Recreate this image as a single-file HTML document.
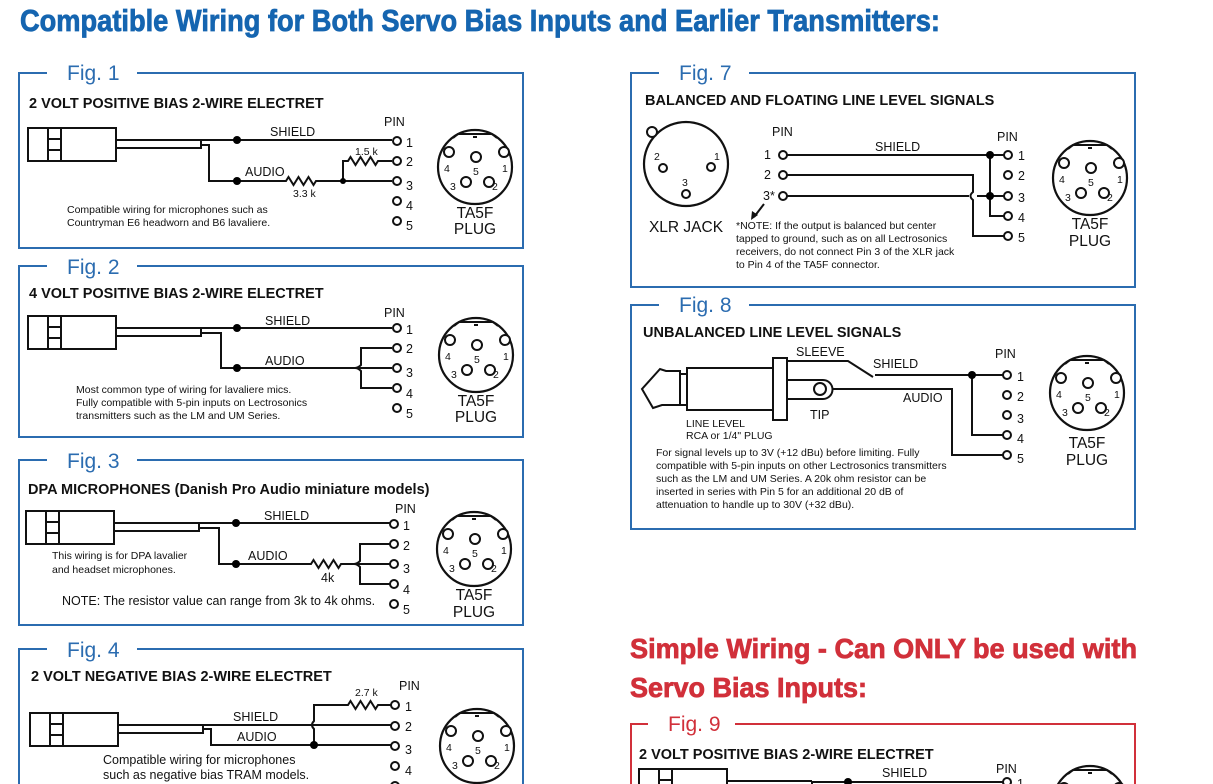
<!DOCTYPE html>
<html><head><meta charset="utf-8"><style>
html,body{margin:0;padding:0;background:#fff;width:1213px;height:784px;overflow:hidden;}
svg{display:block;overflow:hidden;font-family:"Liberation Sans",Arial,sans-serif;}
.w{fill:none;stroke:#111;stroke-width:2;}
.b{fill:none;stroke:#2b6cb0;stroke-width:2;}
.r{fill:none;stroke:#d1303a;stroke-width:2;}
.t{font-size:10.5px;fill:#111;}
.h{font-size:14.5px;font-weight:bold;fill:#111;}
.l{font-size:12.5px;fill:#111;}
.n{font-size:12.5px;fill:#111;}
.pg{font-size:15.5px;fill:#111;text-anchor:middle;}
.fig{font-size:21px;fill:#2b6cb0;}
.pin{fill:#fff;stroke:#111;stroke-width:2;}
</style></head><body>
<svg width="1213" height="784" viewBox="0 0 1213 784" xmlns="http://www.w3.org/2000/svg">
<defs>
<g id="plug">
<circle cx="0" cy="0" r="37" fill="none" stroke="#111" stroke-width="2.2"/>
<path d="M-22,-29 L-17,-33 L17,-33 L22,-29 M-2,-30 h4" fill="none" stroke="#111" stroke-width="2"/>
<circle cx="-26" cy="-15" r="5" class="pin"/>
<circle cx="1" cy="-10" r="5" class="pin"/>
<circle cx="29" cy="-15" r="5" class="pin"/>
<circle cx="-9" cy="15" r="5" class="pin"/>
<circle cx="14" cy="15" r="5" class="pin"/>
</g>
<g id="mic">
<rect x="0" y="0" width="88" height="33" fill="none" stroke="#111" stroke-width="2"/>
<path d="M20,0 V33 M33,0 V33 M20,11 H33 M20,22 H33" fill="none" stroke="#111" stroke-width="2"/>
<path d="M88,12 H173 M88,20 H173 V12" fill="none" stroke="#111" stroke-width="2"/>
</g>
</defs>

<text x="20" y="31" font-size="31" font-weight="bold" fill="#1565b0" stroke="#1565b0" stroke-width="0.8" textLength="920" lengthAdjust="spacingAndGlyphs">Compatible Wiring for Both Servo Bias Inputs and Earlier Transmitters:</text>

<!-- FIG 1 -->
<path class="b" d="M47,73 H19 V248 H523 V73 H137"/>
<text class="fig" x="67" y="80">Fig. 1</text>
<text class="h" x="29" y="108">2 VOLT POSITIVE BIAS 2-WIRE ELECTRET</text>
<use href="#mic" x="28" y="128"/>
<path class="w" d="M201,140 H392 M201,145 H209 V181 H286 l2.5,-4 l5,8 l5,-8 l5,8 l5,-8 l5,8 l2.5,-4 H392 M343,181 V161 H348 l2.5,-4 l5,8 l5,-8 l5,8 l5,-8 l5,8 l2.5,-4 H392"/>
<circle cx="237" cy="140" r="4"/><circle cx="237" cy="181" r="4"/><circle cx="343" cy="181" r="3"/>
<text class="l" x="270" y="136">SHIELD</text>
<text class="l" x="245" y="176">AUDIO</text>
<text class="t" x="293" y="197">3.3 k</text>
<text class="t" x="355" y="155">1.5 k</text>
<text class="l" x="384" y="126">PIN</text>
<circle cx="397" cy="141" r="4" class="pin"/><circle cx="397" cy="161" r="4" class="pin"/><circle cx="397" cy="181" r="4" class="pin"/><circle cx="397" cy="201" r="4" class="pin"/><circle cx="397" cy="221" r="4" class="pin"/>
<text class="n" x="406" y="147">1</text><text class="n" x="406" y="166">2</text><text class="n" x="406" y="190">3</text><text class="n" x="406" y="210">4</text><text class="n" x="406" y="230">5</text>
<text class="t" x="67" y="213">Compatible wiring for microphones such as</text>
<text class="t" x="67" y="226">Countryman E6 headworn and B6 lavaliere.</text>
<use href="#plug" x="475" y="167"/>
<text class="t" x="444" y="172">4</text><text class="t" x="473" y="175">5</text><text class="t" x="502" y="172">1</text><text class="t" x="450" y="190">3</text><text class="t" x="492" y="190">2</text>
<text class="pg" x="475" y="218">TA5F</text><text class="pg" x="475" y="234">PLUG</text>

<!-- FIG 2 -->
<path class="b" d="M47,266 H19 V437 H523 V266 H137"/>
<text class="fig" x="67" y="274">Fig. 2</text>
<text class="h" x="29" y="298">4 VOLT POSITIVE BIAS 2-WIRE ELECTRET</text>
<use href="#mic" x="28" y="316"/>
<path class="w" d="M201,328 H392 M201,333 H221 V368 H355 M392,348 H361 V365 q-3,3 -6,3 q3,0 6,3 V388 H392 M358,368 H392"/>
<circle cx="237" cy="328" r="4"/><circle cx="237" cy="368" r="4"/>
<text class="l" x="265" y="325">SHIELD</text>
<text class="l" x="265" y="365">AUDIO</text>
<text class="l" x="384" y="317">PIN</text>
<circle cx="397" cy="328" r="4" class="pin"/><circle cx="397" cy="348" r="4" class="pin"/><circle cx="397" cy="368" r="4" class="pin"/><circle cx="397" cy="388" r="4" class="pin"/><circle cx="397" cy="408" r="4" class="pin"/>
<text class="n" x="406" y="334">1</text><text class="n" x="406" y="353">2</text><text class="n" x="406" y="377">3</text><text class="n" x="406" y="398">4</text><text class="n" x="406" y="418">5</text>
<text class="t" x="76" y="393">Most common type of wiring for lavaliere mics.</text>
<text class="t" x="76" y="406">Fully compatible with 5-pin inputs on Lectrosonics</text>
<text class="t" x="76" y="419">transmitters such as the LM and UM Series.</text>
<use href="#plug" x="476" y="355"/>
<text class="t" x="445" y="360">4</text><text class="t" x="474" y="363">5</text><text class="t" x="503" y="360">1</text><text class="t" x="451" y="378">3</text><text class="t" x="493" y="378">2</text>
<text class="pg" x="476" y="406">TA5F</text><text class="pg" x="476" y="422">PLUG</text>

<!-- FIG 3 -->
<path class="b" d="M47,460 H19 V625 H523 V460 H137"/>
<text class="fig" x="67" y="468">Fig. 3</text>
<text class="h" x="28" y="494">DPA MICROPHONES (Danish Pro Audio miniature models)</text>
<use href="#mic" x="26" y="511"/>
<path class="w" d="M199,523 H390 M199,528 H219 V564 H311 l2.5,-4 l5,8 l5,-8 l5,8 l5,-8 l5,8 l2.5,-4 H354 M390,544 H360 V561 q-3,3 -6,3 q3,0 6,3 V584 H390 M357,564 H390"/>
<circle cx="236" cy="523" r="4"/><circle cx="236" cy="564" r="4"/>
<text class="l" x="264" y="520">SHIELD</text>
<text class="l" x="248" y="560">AUDIO</text>
<text class="l" x="321" y="582">4k</text>
<text class="l" x="395" y="513">PIN</text>
<circle cx="394" cy="524" r="4" class="pin"/><circle cx="394" cy="544" r="4" class="pin"/><circle cx="394" cy="564" r="4" class="pin"/><circle cx="394" cy="584" r="4" class="pin"/><circle cx="394" cy="604" r="4" class="pin"/>
<text class="n" x="403" y="530">1</text><text class="n" x="403" y="550">2</text><text class="n" x="403" y="573">3</text><text class="n" x="403" y="594">4</text><text class="n" x="403" y="614">5</text>
<text class="t" x="52" y="559">This wiring is for DPA lavalier</text>
<text class="t" x="52" y="573">and headset microphones.</text>
<text class="l" x="62" y="605" font-size="12">NOTE: The resistor value can range from 3k to 4k ohms.</text>
<use href="#plug" x="474" y="549"/>
<text class="t" x="443" y="554">4</text><text class="t" x="472" y="557">5</text><text class="t" x="501" y="554">1</text><text class="t" x="449" y="572">3</text><text class="t" x="491" y="572">2</text>
<text class="pg" x="474" y="600">TA5F</text><text class="pg" x="474" y="617">PLUG</text>

<!-- FIG 4 -->
<path class="b" d="M47,649 H19 V784 M523,784 V649 H137"/>
<text class="fig" x="67" y="657">Fig. 4</text>
<text class="h" x="31" y="681">2 VOLT NEGATIVE BIAS 2-WIRE ELECTRET</text>
<use href="#mic" x="30" y="713"/>
<path class="w" d="M203,725 H392 M203,729 H211 V745 H392 M314,745 V729 q-4,-4 0,-8 V705 H348 l2.5,-4 l5,8 l5,-8 l5,8 l5,-8 l5,8 l2.5,-4 H392"/>
<circle cx="314" cy="745" r="4"/>
<text class="l" x="233" y="721">SHIELD</text>
<text class="l" x="237" y="741">AUDIO</text>
<text class="t" x="355" y="696">2.7 k</text>
<text class="l" x="399" y="690">PIN</text>
<circle cx="395" cy="705" r="4" class="pin"/><circle cx="395" cy="726" r="4" class="pin"/><circle cx="395" cy="746" r="4" class="pin"/><circle cx="395" cy="766" r="4" class="pin"/><circle cx="395" cy="786" r="4" class="pin"/>
<text class="n" x="405" y="711">1</text><text class="n" x="405" y="731">2</text><text class="n" x="405" y="754">3</text><text class="n" x="405" y="775">4</text>
<text class="l" x="103" y="764" font-size="12">Compatible wiring for microphones</text>
<text class="l" x="103" y="779" font-size="12">such as negative bias TRAM models.</text>
<use href="#plug" x="477" y="746"/>
<text class="t" x="446" y="751">4</text><text class="t" x="475" y="754">5</text><text class="t" x="504" y="751">1</text><text class="t" x="452" y="769">3</text><text class="t" x="494" y="769">2</text>

<!-- FIG 7 -->
<path class="b" d="M659,73 H631 V287 H1135 V73 H749"/>
<text class="fig" x="679" y="80">Fig. 7</text>
<text class="h" x="645" y="105">BALANCED AND FLOATING LINE LEVEL SIGNALS</text>
<circle cx="686" cy="164" r="42" fill="none" stroke="#111" stroke-width="2.2"/>
<circle cx="652" cy="132" r="5" fill="#fff" stroke="#111" stroke-width="2"/>
<circle cx="663" cy="168" r="4" class="pin"/><circle cx="711" cy="167" r="4" class="pin"/><circle cx="686" cy="194" r="4" class="pin"/>
<text class="t" x="654" y="160">2</text><text class="t" x="714" y="160">1</text><text class="t" x="682" y="186">3</text>
<text class="pg" x="686" y="232">XLR JACK</text>
<text class="l" x="772" y="136">PIN</text>
<text class="l" x="764" y="159">1</text><text class="l" x="764" y="179">2</text><text class="l" x="763" y="200">3*</text>
<circle cx="783" cy="155" r="4" class="pin"/><circle cx="783" cy="175" r="4" class="pin"/><circle cx="783" cy="196" r="4" class="pin"/>
<path class="w" d="M787,155 H1004 M990,155 V216 H1004 M787,175 H973 V192 q-5,4 0,8 V236 H1004 M787,196 H969 M977,196 H1004"/>
<circle cx="990" cy="155" r="4"/><circle cx="990" cy="196" r="4"/>
<text class="l" x="875" y="151">SHIELD</text>
<text class="l" x="997" y="141">PIN</text>
<circle cx="1008" cy="155" r="4" class="pin"/><circle cx="1008" cy="175" r="4" class="pin"/><circle cx="1008" cy="196" r="4" class="pin"/><circle cx="1008" cy="216" r="4" class="pin"/><circle cx="1008" cy="236" r="4" class="pin"/>
<text class="n" x="1018" y="160">1</text><text class="n" x="1018" y="180">2</text><text class="n" x="1018" y="202">3</text><text class="n" x="1018" y="222">4</text><text class="n" x="1018" y="242">5</text>
<path class="w" d="M764,204 L754,217" stroke-width="1.5"/><path d="M751,220 L752,211 L758,215 Z" fill="#111"/>
<text class="t" x="736" y="229">*NOTE:  If the output is balanced but center</text>
<text class="t" x="736" y="242">tapped to ground, such as on all Lectrosonics</text>
<text class="t" x="736" y="255">receivers, do not connect Pin 3 of the XLR jack</text>
<text class="t" x="736" y="268">to Pin 4 of the TA5F connector.</text>
<use href="#plug" x="1090" y="178"/>
<text class="t" x="1059" y="183">4</text><text class="t" x="1088" y="186">5</text><text class="t" x="1117" y="183">1</text><text class="t" x="1065" y="201">3</text><text class="t" x="1107" y="201">2</text>
<text class="pg" x="1090" y="229">TA5F</text><text class="pg" x="1090" y="246">PLUG</text>

<!-- FIG 8 -->
<path class="b" d="M659,305 H631 V529 H1135 V305 H749"/>
<text class="fig" x="679" y="312">Fig. 8</text>
<text class="h" x="643" y="337">UNBALANCED LINE LEVEL SIGNALS</text>
<path class="w" d="M680,371 L666,371 L660,369 L642,389 L653,408 L662,405 L680,405 Z"/>
<rect x="680" y="374" width="7" height="31" class="w"/>
<rect x="687" y="368" width="86" height="42" class="w" fill="#fff"/>
<rect x="773" y="358" width="14" height="62" class="w" fill="#fff"/>
<path class="w" d="M787,380 H823 a9.5,9.5 0 0 1 0,19 H787"/>
<circle cx="820" cy="389" r="6" class="pin"/>
<path class="w" d="M787,361 H848 L873,377 M875,375 H1004 M972,375 V435 H1004 M833,389 H952 V455 H1004"/>
<circle cx="972" cy="375" r="4"/>
<text class="l" x="796" y="356">SLEEVE</text>
<text class="l" x="873" y="368">SHIELD</text>
<text class="l" x="903" y="402">AUDIO</text>
<text class="l" x="810" y="419">TIP</text>
<text class="t" x="686" y="427">LINE LEVEL</text>
<text class="t" x="686" y="439">RCA or 1/4" PLUG</text>
<text class="l" x="995" y="358">PIN</text>
<circle cx="1007" cy="375" r="4" class="pin"/><circle cx="1007" cy="395" r="4" class="pin"/><circle cx="1007" cy="415" r="4" class="pin"/><circle cx="1007" cy="435" r="4" class="pin"/><circle cx="1007" cy="455" r="4" class="pin"/>
<text class="n" x="1017" y="381">1</text><text class="n" x="1017" y="401">2</text><text class="n" x="1017" y="423">3</text><text class="n" x="1017" y="443">4</text><text class="n" x="1017" y="463">5</text>
<text class="t" x="656" y="456">For signal levels up to 3V (+12 dBu) before limiting. Fully</text>
<text class="t" x="656" y="469">compatible with 5-pin inputs on other Lectrosonics transmitters</text>
<text class="t" x="656" y="482">such as the LM and UM Series.  A 20k ohm resistor can be</text>
<text class="t" x="656" y="495">inserted in series with Pin 5 for an additional 20 dB of</text>
<text class="t" x="656" y="508">attenuation to handle up to 30V (+32 dBu).</text>
<use href="#plug" x="1087" y="393"/>
<text class="t" x="1056" y="398">4</text><text class="t" x="1085" y="401">5</text><text class="t" x="1114" y="398">1</text><text class="t" x="1062" y="416">3</text><text class="t" x="1104" y="416">2</text>
<text class="pg" x="1087" y="448">TA5F</text><text class="pg" x="1087" y="465">PLUG</text>

<!-- RED SECTION -->
<text x="630" y="658" font-size="28" font-weight="bold" fill="#d1303a" stroke="#d1303a" stroke-width="0.8" textLength="507" lengthAdjust="spacingAndGlyphs">Simple Wiring - Can ONLY be used with</text>
<text x="630" y="697" font-size="28" font-weight="bold" fill="#d1303a" stroke="#d1303a" stroke-width="0.8" textLength="237" lengthAdjust="spacingAndGlyphs">Servo Bias Inputs:</text>
<path class="r" d="M648,724 H631 V784 M1135,784 V724 H735"/>
<text x="668" y="731" font-size="21" fill="#d1303a">Fig. 9</text>
<text class="h" x="639" y="759">2 VOLT POSITIVE BIAS 2-WIRE ELECTRET</text>
<use href="#mic" x="639" y="769"/>
<path class="w" d="M812,782 H1004"/>
<circle cx="848" cy="782" r="4"/>
<text class="l" x="882" y="777">SHIELD</text>
<text class="l" x="996" y="773">PIN</text>
<circle cx="1007" cy="782" r="4" class="pin"/>
<text class="n" x="1017" y="788">1</text>
<use href="#plug" x="1090" y="803"/>
</svg>
</body></html>
